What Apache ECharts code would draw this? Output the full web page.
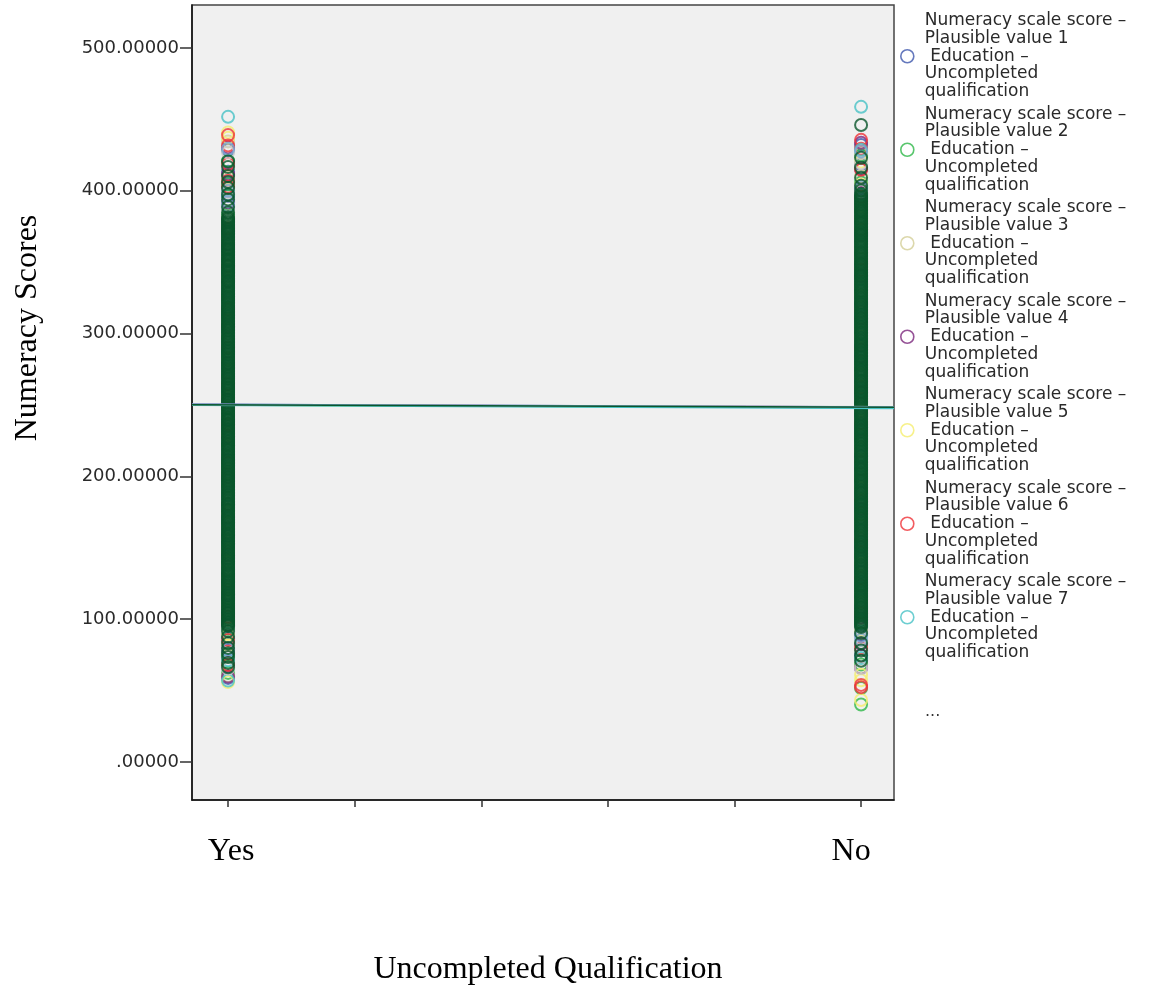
<!DOCTYPE html>
<html>
<head>
<meta charset="utf-8">
<script src="https://cdn.jsdelivr.net/npm/echarts@6/dist/echarts.min.js"></script>
<style>html,body{margin:0;padding:0;background:#fff}#c{width:1149px;height:988px}</style>
</head>
<body>
<div id="c"></div>
<script>
// ---- data ----
const categories = ['Yes', 'No'];
const categoryCodes = [1, 2];
const xTicks = [1, 1.2, 1.4, 1.6, 1.8, 2];
const yTicks = [0, 100, 200, 300, 400, 500];
const yTickLabels = ['.00000', '100.00000', '200.00000', '300.00000', '400.00000', '500.00000'];
const pvNames = [1,2,3,4,5,6,7,8,9,10].map(i => 'Numeracy scale score –\nPlausible value ' + i + '\n Education –\nUncompleted\nqualification');
const pvColors = ['#3E58AC', '#2EB848', '#D3CE97', '#7C287D', '#F5EE6E', '#EF3338', '#48C2C5', '#CCCCCC', '#7AAAD5', '#0A562C'];

const yesPV1 = [428.5, 413.2, 396.4, 371.8, 342.6, 318.3, 287.5, 262.1, 239.8, 211.4, 186.9, 158.2, 131.6, 104.3, 86.7, 58.9];
const noPV1  = [432.0, 418.5, 401.7, 377.2, 348.9, 320.6, 291.3, 266.8, 243.5, 214.1, 188.4, 161.9, 133.2, 108.7, 88.9, 74.6];
const yesPV2 = [421.0, 404.5, 383.2, 351.7, 325.9, 296.4, 270.3, 248.1, 221.6, 193.5, 167.8, 140.2, 114.9, 93.2, 75.1, 62.4];
const noPV2  = [424.6, 405.8, 386.1, 356.3, 329.7, 300.5, 274.6, 251.9, 225.3, 197.1, 170.6, 143.8, 116.5, 97.4, 68.3, 51.8, 40.3];
const yesPV3 = [434.5, 408.9, 380.6, 345.1, 314.8, 283.2, 257.6, 230.4, 204.8, 176.1, 149.3, 122.7, 98.5, 81.9, 60.2];
const noPV3  = [426.3, 410.2, 389.5, 359.8, 333.1, 303.6, 277.9, 254.4, 228.7, 200.2, 173.5, 146.1, 119.8, 92.6, 66.2];
const yesPV4 = [430.2, 411.5, 391.8, 362.4, 336.7, 305.1, 279.4, 253.2, 227.9, 199.6, 171.2, 144.6, 117.3, 95.8, 78.4, 59.8];
const noPV4  = [433.6, 415.1, 398.3, 368.9, 340.2, 310.7, 284.1, 258.9, 232.6, 204.9, 177.3, 150.6, 123.4, 101.2, 82.7, 65.9];
const yesPV5 = [440.8, 437.1, 400.2, 366.3, 338.4, 309.8, 281.7, 255.3, 229.1, 202.6, 174.8, 147.9, 120.4, 89.6, 56.0];
const noPV5  = [420.3, 404.1, 380.7, 352.5, 326.4, 298.2, 271.4, 246.9, 219.5, 191.8, 165.2, 138.7, 112.1, 85.3, 61.1, 57.2, 43.4];
const yesPV6 = [438.9, 431.7, 418.6, 406.9, 402.8, 373.5, 347.2, 316.9, 290.1, 264.7, 236.3, 209.2, 180.4, 153.1, 126.8, 101.7, 85.4, 67.9];
const noPV6  = [435.6, 429.4, 414.6, 395.7, 372.9, 344.7, 315.2, 288.6, 262.3, 237.4, 209.8, 182.6, 155.4, 128.9, 104.2, 79.6, 54.0, 52.4];
const yesPV7 = [451.7, 397.6, 369.9, 343.5, 312.4, 285.3, 259.9, 233.1, 207.5, 179.3, 152.4, 125.7, 97.9, 71.2, 57.0];
const noPV7  = [458.7, 428.6, 397.2, 370.3, 342.8, 312.9, 286.4, 260.7, 234.2, 207.4, 180.1, 152.8, 126.1, 99.3, 72.8];
const yesPV8 = [426.7, 398.7, 375.2, 349.4, 321.8, 293.6, 268.1, 241.7, 215.3, 188.2, 162.5, 134.9, 108.1, 91.3, 65.5];
const noPV8  = [419.2, 399.8, 375.6, 350.1, 323.8, 294.9, 269.5, 244.8, 216.2, 189.7, 163.4, 136.2, 109.5, 86.4, 65.8];
const yesPV9 = [429.4, 399.9, 392.5, 389.1, 358.6, 330.2, 301.9, 275.8, 250.6, 224.7, 196.3, 169.9, 142.5, 116.8, 96.1, 78.8];
const noPV9  = [427.5, 402.7, 392.1, 364.5, 337.8, 307.4, 281.2, 255.7, 230.9, 202.3, 175.8, 148.4, 121.7, 95.2, 85.4, 88.1];
const yesPV10 = [420.4, 416.5, 410.2, 406.1, 401.8, 397.3, 393.9, 388.6, 384.7,
  381.6, 380.5, 379.4, 378.4, 377.5, 376.4, 375.3, 374.2, 373.2, 372.1, 371.0, 370.0, 369.1, 367.9, 366.8, 365.8, 364.9, 363.8, 362.7, 361.5,
  360.4, 359.5, 358.6, 357.4, 356.3, 355.4, 354.5, 353.3, 352.2, 351.2, 350.3, 349.1, 348.0, 347.1, 346.2, 345.0, 343.9, 342.9, 341.8, 340.7,
  339.7, 338.6, 337.5, 336.5, 335.6, 334.4, 333.3, 332.4, 331.4, 330.2, 329.1, 328.1, 327.2, 326.0, 324.9, 323.9, 323.0, 321.9, 320.8, 319.7,
  318.6, 317.5, 316.5, 315.4, 314.4, 313.3, 312.2, 311.2, 310.3, 309.1, 308.0, 307.0, 306.1, 304.9, 303.8, 302.8, 301.9, 300.7, 299.6, 298.5,
  297.5, 296.4, 295.4, 294.3, 293.3, 292.2, 291.1, 290.1, 289.2, 288.0, 286.9, 285.9, 285.0, 283.8, 282.7, 281.7, 280.8, 279.6, 278.5, 277.4,
  276.4, 275.3, 274.3, 273.2, 272.2, 271.1, 270.0, 269.0, 268.1, 266.9, 265.8, 264.8, 263.9, 262.7, 261.6, 260.6, 259.7, 258.5, 257.4, 256.3,
  255.3, 254.2, 253.2, 252.1, 251.1, 250.0, 248.9, 247.9, 247.0, 245.8, 244.7, 243.7, 242.8, 241.6, 240.5, 239.5, 238.6, 237.4, 236.3, 235.2,
  234.2, 233.1, 232.1, 231.0, 230.0, 228.9, 227.8, 226.8, 225.9, 224.7, 223.6, 222.6, 221.7, 220.5, 219.4, 218.4, 217.5, 216.3, 215.2, 214.1,
  213.1, 212.0, 211.0, 209.9, 208.9, 207.8, 206.7, 205.7, 204.8, 203.6, 202.5, 201.5, 200.6, 199.4, 198.3, 197.3, 196.4, 195.2, 194.1, 193.0,
  192.0, 190.9, 189.9, 188.8, 187.8, 186.7, 185.6, 184.6, 183.7, 182.5, 181.4, 180.4, 179.5, 178.3, 177.2, 176.2, 175.3, 174.1, 173.0, 171.9,
  170.9, 169.8, 168.8, 167.7, 166.7, 165.6, 164.5, 163.5, 162.6, 161.4, 160.3, 159.3, 158.4, 157.2, 156.1, 155.1, 154.2, 153.0, 151.9, 150.8,
  149.8, 148.7, 147.7, 146.6, 145.6, 144.5, 143.4, 142.4, 141.5, 140.3, 139.2, 138.2, 137.3, 136.1, 135.0, 134.0, 133.1, 131.9, 130.8, 129.7,
  128.7, 127.6, 126.6, 125.5, 124.5, 123.4, 122.3, 121.3, 120.4, 119.2, 118.1, 117.1, 116.2, 115.0, 113.9, 112.9, 112.0, 110.8, 109.7, 108.6,
  107.6, 106.5, 105.5, 104.4, 103.4, 102.3, 101.2, 100.2, 99.3, 98.1, 97.0, 96.0, 95.1,
  91.6, 87.8, 83.1, 79.9, 76.2, 73.5, 69.4, 66.3];
const noPV10 = [446.0, 423.1, 416.2, 409.0, 403.4, 400.1,
  397.6, 396.5, 395.4, 394.4, 393.3, 392.2, 391.1, 390.1, 389.0, 387.9, 386.8, 385.8, 384.7, 383.6, 382.5, 381.5, 380.4, 379.3, 378.2, 377.2,
  376.1, 375.0, 373.9, 372.9, 371.8, 370.7, 369.6, 368.6, 367.5, 366.4, 365.3, 364.3, 363.2, 362.1, 361.0, 360.0, 358.9, 357.8, 356.7, 355.7,
  354.6, 353.5, 352.4, 351.4, 350.3, 349.2, 348.1, 347.1, 346.0, 344.9, 343.8, 342.8, 341.7, 340.6, 339.5, 338.5, 337.4, 336.3, 335.2, 334.2,
  333.1, 332.0, 330.9, 329.9, 328.8, 327.7, 326.6, 325.6, 324.5, 323.4, 322.3, 321.3, 320.2, 319.1, 318.0, 317.0, 315.9, 314.8, 313.7, 312.7,
  311.6, 310.5, 309.4, 308.4, 307.3, 306.2, 305.1, 304.1, 303.0, 301.9, 300.8, 299.8, 298.7, 297.6, 296.5, 295.5, 294.4, 293.3, 292.2, 291.2,
  290.1, 289.0, 287.9, 286.9, 285.8, 284.7, 283.6, 282.6, 281.5, 280.4, 279.3, 278.3, 277.2, 276.1, 275.0, 274.0, 272.9, 271.8, 270.7, 269.7,
  268.6, 267.5, 266.4, 265.4, 264.3, 263.2, 262.1, 261.1, 260.0, 258.9, 257.8, 256.8, 255.7, 254.6, 253.5, 252.5, 251.4, 250.3, 249.2, 248.2,
  247.1, 246.0, 244.9, 243.9, 242.8, 241.7, 240.6, 239.6, 238.5, 237.4, 236.3, 235.3, 234.2, 233.1, 232.0, 231.0, 229.9, 228.8, 227.7, 226.7,
  225.6, 224.5, 223.4, 222.4, 221.3, 220.2, 219.1, 218.1, 217.0, 215.9, 214.8, 213.8, 212.7, 211.6, 210.5, 209.5, 208.4, 207.3, 206.2, 205.2,
  204.1, 203.0, 201.9, 200.9, 199.8, 198.7, 197.6, 196.6, 195.5, 194.4, 193.3, 192.3, 191.2, 190.1, 189.0, 188.0, 186.9, 185.8, 184.7, 183.7,
  182.6, 181.5, 180.4, 179.4, 178.3, 177.2, 176.1, 175.1, 174.0, 172.9, 171.8, 170.8, 169.7, 168.6, 167.5, 166.5, 165.4, 164.3, 163.2, 162.2,
  161.1, 160.0, 158.9, 157.9, 156.8, 155.7, 154.6, 153.6, 152.5, 151.4, 150.3, 149.3, 148.2, 147.1, 146.0, 145.0, 143.9, 142.8, 141.7, 140.7,
  139.6, 138.5, 137.4, 136.4, 135.3, 134.2, 133.1, 132.1, 131.0, 129.9, 128.8, 127.8, 126.7, 125.6, 124.5, 123.5, 122.4, 121.3, 120.2, 119.2,
  118.1, 117.0, 115.9, 114.9, 113.8, 112.7, 111.6, 110.6, 109.5, 108.4, 107.3, 106.3, 105.2, 104.1, 103.0, 102.0, 100.9, 99.8, 98.7, 97.7,
  96.6, 95.5, 94.5, 90.2, 83.4, 78.1, 74.6, 70.9];

const yesValues = [yesPV1, yesPV2, yesPV3, yesPV4, yesPV5, yesPV6, yesPV7, yesPV8, yesPV9, yesPV10];
const noValues  = [noPV1, noPV2, noPV3, noPV4, noPV5, noPV6, noPV7, noPV8, noPV9, noPV10];

// fit lines (value at left plot edge, value at right plot edge)
const fitEdgesX = [0.943, 2.052];
const fitLeft  = [250.4, 249.9, 250.1, 250.3, 250.0, 250.2, 249.7, 250.3, 250.5, 250.1];
const fitRight = [248.6, 248.0, 248.3, 248.4, 248.2, 248.5, 247.5, 248.7, 248.6, 248.4];
const legendShown = 7;

// ---- chart ----
const serifFont = '"Liberation Serif", "Times New Roman", serif';
const chart = echarts.init(document.getElementById('c'), null, {renderer: 'canvas'});
const series = [];
pvNames.forEach((name, i) => {
  const data = [];
  yesValues[i].forEach(v => data.push([categoryCodes[0], v]));
  noValues[i].forEach(v => data.push([categoryCodes[1], v]));
  series.push({
    type: 'scatter', name: name, data: data,
    symbol: 'circle', symbolSize: 12,
    itemStyle: {color: 'rgba(0,0,0,0)', borderColor: pvColors[i], borderWidth: 2},
    emphasis: {disabled: true}
  });
});
pvNames.forEach((name, i) => {
  series.push({
    type: 'line', name: 'fit ' + (i + 1),
    data: [[fitEdgesX[0], fitLeft[i]], [fitEdgesX[1], fitRight[i]]],
    showSymbol: false, symbol: 'none',
    lineStyle: {color: pvColors[i], width: 1.5},
    emphasis: {disabled: true}
  });
});

const option = {
  animation: false,
  backgroundColor: '#fff',
  grid: {left: 192, right: 255, top: 5, bottom: 188, containLabel: false, outerBoundsMode: 'none',
    show: true, backgroundColor: '#f0f0f0', borderColor: '#444', borderWidth: 1.5},
  xAxis: {
    type: 'value', min: fitEdgesX[0], max: fitEdgesX[1],
    splitLine: {show: false},
    axisLine: {show: true, onZero: false, lineStyle: {color: '#111', width: 1.5}},
    axisTick: {show: true, customValues: xTicks, length: 7, inside: false, lineStyle: {color: '#333', width: 1.5}},
    axisLabel: {customValues: categoryCodes, margin: 36, color: '#000',
      fontFamily: serifFont, fontSize: 32,
      formatter: v => {
        const idx = categoryCodes.indexOf(Math.round(v));
        return idx === 0 ? '{a|' + categories[0] + '}' : idx === 1 ? '{b|' + categories[1] + '}' : '';
      },
      rich: {
        a: {fontFamily: serifFont, fontSize: 32, color: '#000', padding: [0, 0, 0, 6]},
        b: {fontFamily: serifFont, fontSize: 32, color: '#000', padding: [0, 20, 0, 0]}
      }},
    name: 'Uncompleted Qualification', nameLocation: 'middle', nameGap: 154,
    nameTextStyle: {fontFamily: serifFont, fontSize: 32, color: '#000', padding: [0, 0, 0, 10]}
  },
  yAxis: {
    type: 'value', min: -26.6, max: 530,
    splitLine: {show: false},
    axisLine: {show: true, onZero: false, lineStyle: {color: '#111', width: 1.5}},
    axisTick: {show: true, customValues: yTicks, length: 12, inside: false, lineStyle: {color: '#333', width: 1.5}},
    axisLabel: {customValues: yTicks, margin: 13, color: '#2a2a2a', fontFamily: '"DejaVu Sans", sans-serif', fontSize: 18,
      formatter: v => yTickLabels[yTicks.indexOf(Math.round(v))]}
  },
  legend: {
    orient: 'vertical', left: 895, top: 7, itemGap: 5,
    itemWidth: 13, itemHeight: 13,
    data: pvNames.slice(0, legendShown).map((n, i) => ({
      name: n, icon: 'circle',
      itemStyle: {color: 'rgba(0,0,0,0)', borderColor: pvColors[i], borderWidth: 1.6}
    })),
    textStyle: {fontFamily: '"DejaVu Sans", sans-serif', fontSize: 17, lineHeight: 17.7, color: '#2a2a2a', padding: [0, 0, 0, 6]},
    selectedMode: false
  },
  graphic: [
    {type: 'text', x: 28, y: 328, rotation: Math.PI / 2,
      style: {text: 'Numeracy Scores', fill: '#000', font: '32px "Liberation Serif", "Times New Roman", serif', textAlign: 'center', textVerticalAlign: 'middle'}},
    {type: 'text', x: 925, y: 712,
      style: {text: '...', fill: '#333', font: '16px "DejaVu Sans", sans-serif', textAlign: 'left', textVerticalAlign: 'middle'}}
  ],
  series: series
};
chart.setOption(option);
</script>
</body>
</html>
